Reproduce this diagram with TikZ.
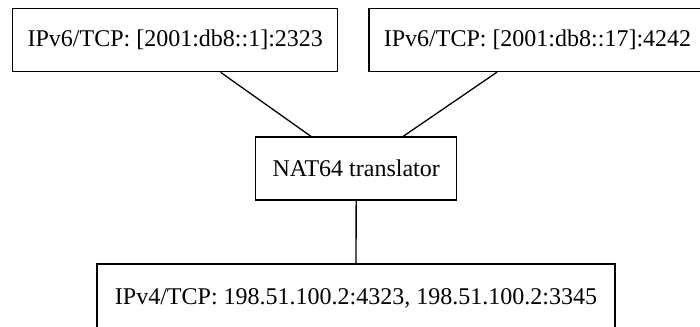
\documentclass[tikz,border=0pt]{standalone}
\usepackage{fontspec}
\setmainfont{Liberation Serif}
\begin{document}
\begin{tikzpicture}[x=1pt,y=-1pt,
  box/.style={draw=black, line width=1.3pt, rectangle, inner sep=0pt, anchor=center,
    minimum height=63pt, font=\fontsize{24}{28}\selectfont},
  link/.style={draw=black, line width=1.3pt}]
\path[use as bounding box] (0,0) rectangle (700,326);
\clip (0,0) rectangle (700,326);
\fill[white] (0,0) rectangle (700,326);
\node[box, minimum width=325pt] (b1) at (175.3,40.2) {IPv6/TCP: [2001:db8::1]:2323};
\node[box, minimum width=350pt] (b2) at (544,40) {\makebox[350pt][c]{\hspace*{-13pt}IPv6/TCP: [2001:db8::17]:4242}};
\node[box, minimum width=201pt] (nat) at (356.2,168.5) {NAT64 translator};
\node[box, minimum width=518pt, minimum height=70pt] (v4) at (356,299) {IPv4/TCP: 198.51.100.2:4323, 198.51.100.2:3345\\[-2pt]\strut};
\draw[link] (b1) -- (nat);
\draw[link] (b2) -- (nat);
\draw[link] (nat) -- (v4);
\end{tikzpicture}
\end{document}
